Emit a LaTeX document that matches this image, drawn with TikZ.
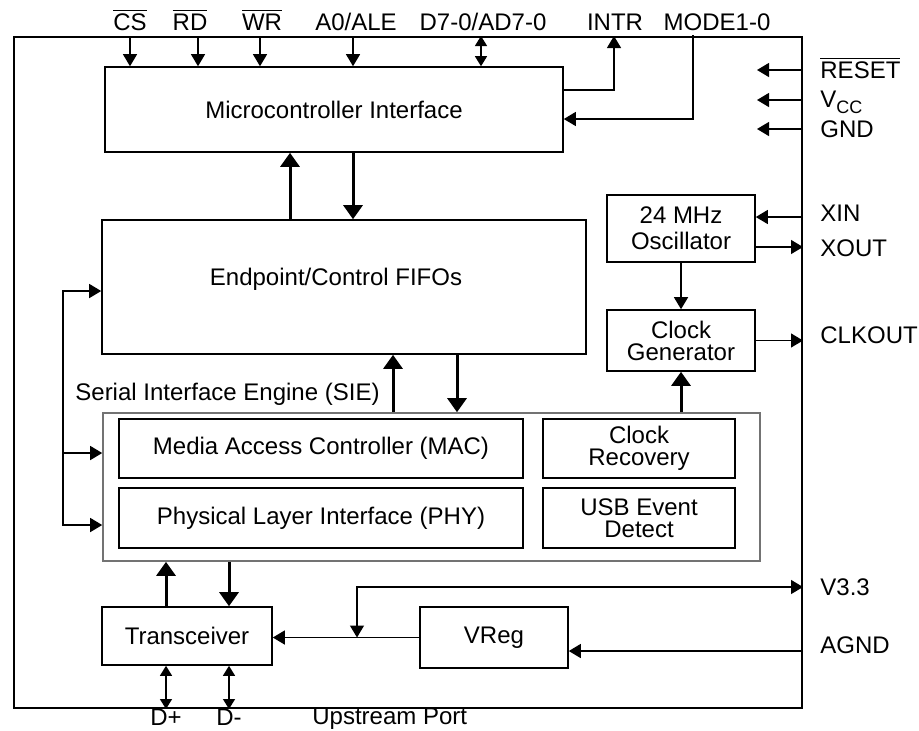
\documentclass[tikz,border=0pt]{standalone}
\usepackage{fontspec}
\setmainfont{Liberation Sans}
\usetikzlibrary{positioning}
\usetikzlibrary{calc}
\usetikzlibrary{arrows.meta}

\begin{document}
\begin{tikzpicture}[
x=0.5pt, y=-0.5pt,
font=\fontsize{12}{11}\selectfont,
blocknode/.style={rectangle, draw=black, line width=0.8pt, inner sep=0pt,
align=center, anchor=center},
pinnode/.style={inner sep=0pt, anchor=base},
rpinnode/.style={inner sep=0pt, anchor=base west},
sig/.style={line width=0.65pt, -{Triangle[length=6pt,width=7pt]}},
sigboth/.style={line width=0.65pt, {Triangle[length=6pt,width=7pt]}-{Triangle[length=6pt,width=7pt]}},
dsig/.style={line width=0.65pt, {Triangle[length=5pt,width=6pt]}-{Triangle[length=5pt,width=6pt]}},
bus/.style={line width=1.5pt, -{Triangle[length=7pt,width=9.5pt]}}
]
\useasboundingbox (0,0) rectangle (919,730);

%Nodes
\node[blocknode, line width=1pt, minimum width=394pt, minimum height=335.5pt] (chip) at (408,372.5) {};
\node[blocknode, minimum width=229pt, minimum height=42.5pt] (mcu) at (334,109.5) {Microcontroller Interface};
\node[blocknode, minimum width=242pt, minimum height=67pt,
label={[xshift=-4pt, yshift=4pt]center:Endpoint/Control FIFOs}] (fifo) at (344,287) {};
\node[blocknode, minimum width=74pt, minimum height=33.5pt] (osc) at (681,228.5) {24 MHz\\[2pt]Oscillator};
\node[blocknode, minimum width=74pt, minimum height=30.5pt] (clkgen) at (681,340.5) {Clock\\Generator};
\node[blocknode, draw=black!55, minimum width=328.5pt, minimum height=74pt] (sie) at (431.5,487) {};
\node[blocknode, minimum width=202pt, minimum height=29.5pt] (mac) at (321,448.5) {Media Access Controller (MAC)};
\node[blocknode, minimum width=202pt, minimum height=30pt] (phy) at (321,518) {Physical Layer Interface (PHY)};
\node[blocknode, minimum width=96pt, minimum height=29.5pt] (clkrec) at (639,448.5) {Clock\\Recovery};
\node[blocknode, minimum width=96pt, minimum height=30pt] (usbev) at (639,518) {USB Event\\Detect};
\node[blocknode, minimum width=85pt, minimum height=29pt] (xcvr) at (187,636) {Transceiver};
\node[blocknode, minimum width=74pt, minimum height=30.5pt] (vreg) at (494,637.5) {VReg};
\node[rpinnode] (sielabel) at (75,400) {Serial Interface Engine (SIE)};

%Pin labels
\node[pinnode] (cs) at (130,30) {$\overline{\mbox{CS}}$};
\node[pinnode] (rd) at (190,30) {$\overline{\mbox{RD}}$};
\node[pinnode] (wr) at (262,30) {$\overline{\mbox{WR}}$};
\node[pinnode] (ale) at (356,30) {A0/ALE};
\node[pinnode] (data) at (483,30) {D7-0/AD7-0};
\node[pinnode] (intr) at (615,30) {INTR};
\node[pinnode] (mode) at (717,30) {MODE1-0};
\node[rpinnode] (reset) at (820,78) {$\overline{\mbox{RESET}}$};
\node[rpinnode] (vcc) at (820,107) {V\raisebox{-3pt}{\fontsize{9}{9}\selectfont CC}};
\node[rpinnode] (gnd) at (820,137) {GND};
\node[rpinnode] (xin) at (820,221) {XIN};
\node[rpinnode] (xout) at (820,256) {XOUT};
\node[rpinnode] (clkout) at (820,343) {CLKOUT};
\node[rpinnode] (vtt) at (820,595) {V3.3};
\node[rpinnode] (agnd) at (820,653) {AGND};
\node[pinnode] (dplus) at (166,725) {D+};
\node[pinnode] (dminus) at (229,725) {D-};
\node[rpinnode] (upstream) at (312,724) {Upstream Port};

%Coordinates
\coordinate (busTop) at (63,291);
\coordinate (busMid) at (63,453);
\coordinate (busBot) at (63,525);
\coordinate (tap) at (357,0 |- vreg.west);

%Lines
\draw[sig] (130,0 |- chip.north) -- (130,0 |- mcu.north);
\draw[sig] (198,0 |- chip.north) -- (198,0 |- mcu.north);
\draw[sig] (260,0 |- chip.north) -- (260,0 |- mcu.north);
\draw[sig] (353,0 |- chip.north) -- (353,0 |- mcu.north);
\draw[dsig] (481,0 |- chip.north) -- (481,0 |- mcu.north);
\draw[sig] (mcu.east |- 0,90) -- (614,90) -- (614,0 |- chip.north);
\draw[sig] (693,35) -- (693,119) -- (mcu.east |- 0,119);

\foreach \y in {70,100,129}
  \draw[sig] (chip.east |- 0,\y) -- (757,\y);
\draw[sig] (chip.east |- 0,217) -- (osc.east |- 0,217);
\draw[sig] (osc.east |- 0,247) -- (chip.east |- 0,247);
\draw[sig] (osc) -- (clkgen);
\draw[sig] (clkgen.east) -- (clkgen.east -| chip.east);

\draw[bus] (290,0 |- fifo.north) -- (290,0 |- mcu.south);
\draw[bus] (353,0 |- mcu.south) -- (353,0 |- fifo.north);
\draw[bus] (393,0 |- sie.north) -- (393,0 |- fifo.south);
\draw[bus] (457,0 |- fifo.south) -- (457,0 |- sie.north);
\draw[bus] (clkgen.south |- sie.north) -- (clkgen.south);

\draw[sigboth] (busTop -| fifo.west) -- (busTop) -- (busBot) -- (busBot -| sie.west);
\draw[sig] (busMid) -- (busMid -| sie.west);

\draw[bus] (166,0 |- xcvr.north) -- (166,0 |- sie.south);
\draw[bus] (229,0 |- sie.south) -- (229,0 |- xcvr.north);
\draw[dsig] (166,0 |- xcvr.south) -- (166,0 |- chip.south);
\draw[dsig] (229,0 |- xcvr.south) -- (229,0 |- chip.south);

\draw[sig] (vreg.west) -- (vreg.west -| xcvr.east);
\draw[sigboth] (tap) -- (357,587) -- (chip.east |- 0,587);
\draw[sig] (chip.east |- 0,651) -- (vreg.east |- 0,651);

\end{tikzpicture}
\end{document}
